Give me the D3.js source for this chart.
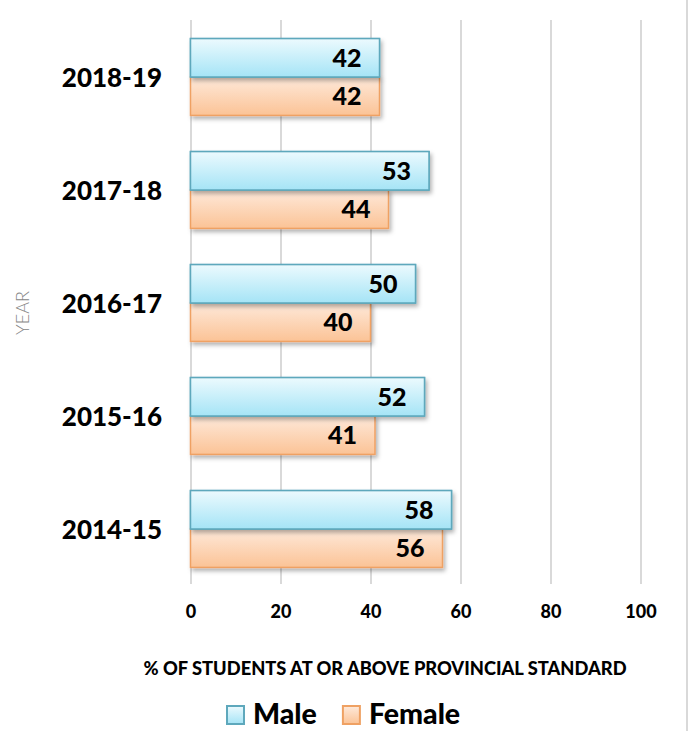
<!DOCTYPE html>
<html>
<head>
<meta charset="utf-8">
<script src="https://cdn.jsdelivr.net/npm/d3@7"></script>
<style>
  html, body { margin: 0; padding: 0; background: #fff; }
  svg { display: block; font-family: Lato, "Open Sans", sans-serif; }
</style>
</head>
<body>
<svg id="chart" width="691" height="731"></svg>
<script>
// School years, top to bottom
const years = ["2018-19", "2017-18", "2016-17", "2015-16", "2014-15"];
// % of students at or above provincial standard
const male = [42, 53, 50, 52, 58];
const female = [42, 44, 40, 41, 56];
const seriesNames = ["Male", "Female"];
const xTicks = [0, 20, 40, 60, 80, 100];
const xTitle = "% OF STUDENTS AT OR ABOVE PROVINCIAL STANDARD";
const yTitle = "YEAR";

const rows = years.map((y, i) => ({ year: y, Male: male[i], Female: female[i] }));

const svg = d3.select("#chart");
const W = 691, H = 731;
const HEAVY = 900;

const x = d3.scaleLinear().domain([0, 100]).range([190.5, 640.5]);
const y = d3.scaleBand().domain(years).range([20.5, 585.5]).paddingInner(0.32).paddingOuter(0.16);
const sub = d3.scaleBand().domain(seriesNames).range([0, y.bandwidth()]);

const style = {
  Male:   { top: "#ecfafe", bottom: "#a5e4f6", stroke: "#5ea8bc" },
  Female: { top: "#fee9da", bottom: "#fbc396", stroke: "#efa163" }
};

const defs = svg.append("defs");
seriesNames.forEach(s => {
  const g = defs.append("linearGradient").attr("id", "grad-" + s)
    .attr("x1", 0).attr("y1", 0).attr("x2", 0).attr("y2", 1);
  g.append("stop").attr("offset", "0%").attr("stop-color", style[s].top);
  g.append("stop").attr("offset", "100%").attr("stop-color", style[s].bottom);
});
const shadow = defs.append("filter").attr("id", "shadow")
  .attr("x", "-5%").attr("y", "-20%").attr("width", "115%").attr("height", "160%");
shadow.append("feDropShadow").attr("dx", 2).attr("dy", 3).attr("stdDeviation", 2)
  .attr("flood-color", "#000").attr("flood-opacity", 0.3);

// frame line on the right edge
svg.append("line").attr("x1", 687).attr("x2", 687).attr("y1", 0).attr("y2", H)
  .attr("stroke", "#d9d9d9").attr("stroke-width", 2);

// vertical gridlines
const grid = d3.axisBottom(x).tickValues(xTicks).tickSize(-(584 - 20)).tickFormat("");
svg.append("g").attr("transform", "translate(0,584)").call(grid)
  .call(g => g.select(".domain").remove())
  .call(g => g.selectAll("line").attr("stroke", "#d9d9d9").attr("stroke-width", 2));

// tick labels
const xAxis = d3.axisBottom(x).tickValues(xTicks).tickSize(0).tickPadding(0);
svg.append("g").attr("transform", "translate(0,618)").call(xAxis)
  .call(g => g.select(".domain").remove())
  .call(g => g.selectAll("text").attr("dy", 0).attr("fill", "#000")
    .attr("font-size", 18).attr("font-weight", HEAVY).attr("font-family", "Lato, sans-serif"));

// bars
const groups = svg.append("g").selectAll("g").data(rows).join("g")
  .attr("transform", d => `translate(0,${y(d.year)})`);

seriesNames.slice().reverse().forEach(s => {
  groups.append("rect")
    .attr("x", x(0))
    .attr("y", sub(s))
    .attr("width", d => x(d[s]) - x(0))
    .attr("height", sub.bandwidth())
    .attr("fill", `url(#grad-${s})`)
    .attr("stroke", style[s].stroke)
    .attr("stroke-width", 1.5)
    .attr("filter", "url(#shadow)");
});

// redraw male on top of female so its lower edge is visible
groups.append("rect")
  .attr("x", x(0)).attr("y", sub("Male"))
  .attr("width", d => x(d.Male) - x(0)).attr("height", sub.bandwidth())
  .attr("fill", "url(#grad-Male)").attr("stroke", style.Male.stroke).attr("stroke-width", 1.5);

// value labels
seriesNames.forEach(s => {
  groups.append("text")
    .attr("x", d => x(d[s]) - 18)
    .attr("y", sub(s) + sub.bandwidth() / 2 + 9)
    .attr("text-anchor", "end")
    .attr("font-size", 25).attr("font-weight", HEAVY).attr("fill", "#000")
    .text(d => d[s]);
});

// year labels
svg.append("g").selectAll("text").data(years).join("text")
  .attr("x", 162)
  .attr("y", d => y(d) + y.bandwidth() / 2 + 9.5)
  .attr("text-anchor", "end")
  .attr("font-size", 26).attr("font-weight", HEAVY).attr("fill", "#000")
  .text(d => d);

// axis titles
svg.append("text")
  .attr("transform", "translate(29,313) rotate(-90)")
  .attr("text-anchor", "middle")
  .attr("font-size", 18).attr("font-weight", 300).attr("fill", "#858585")
  .text(yTitle);

svg.append("text")
  .attr("x", 385).attr("y", 675)
  .attr("text-anchor", "middle")
  .attr("font-size", 18.3).attr("font-weight", HEAVY).attr("fill", "#000")
  .text(xTitle);

// legend
const legend = svg.append("g");
const items = legend.selectAll("g").data(seriesNames).join("g");
items.append("rect")
  .attr("width", 17).attr("height", 18)
  .attr("fill", d => `url(#grad-${d})`)
  .attr("stroke", d => style[d].stroke).attr("stroke-width", 2);
items.append("text")
  .attr("x", 26).attr("y", 18)
  .attr("font-size", 28.5).attr("font-weight", HEAVY).attr("fill", "#000")
  .text(d => d);
let lx = 227;
items.each(function () {
  const g = d3.select(this);
  g.attr("transform", `translate(${lx},706)`);
  lx += this.getBBox().width + 26;
});
</script>
</body>
</html>
